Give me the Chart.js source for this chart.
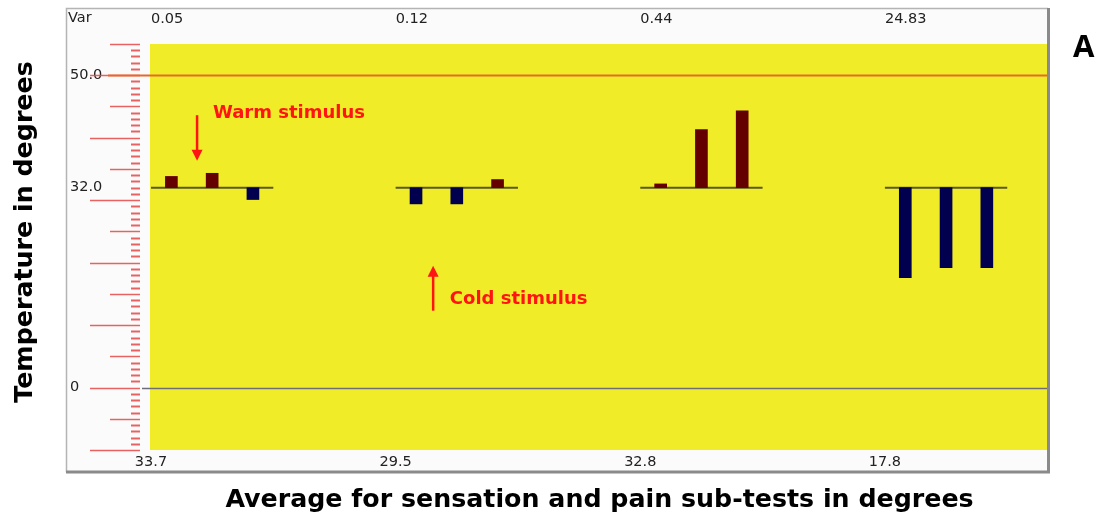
<!DOCTYPE html>
<html>
<head>
<meta charset="utf-8">
<script src="https://cdn.jsdelivr.net/npm/chart.js@4.4.1/dist/chart.umd.min.js"></script>
<style>
  html, body { margin: 0; padding: 0; background: #fff; }
  #wrap { width: 1106px; height: 520px; position: relative; }
</style>
</head>
<body>
<div id="wrap"><canvas id="tsaChart"></canvas></div>
<script>
// Thermal sensory trials - 4 sub-tests, 3 trials each, around the 32 degree baseline

const groupVariance = ['0.05', '0.12', '0.44', '24.83'];
const groupAverage = ['33.7', '29.5', '32.8', '17.8'];
const groupStart = [0, 6, 12, 18];      // first slot of each sub-test
const trialsPerGroup = 3;
const slotCount = 22;
const baselineTemp = 32;
const trialTemps = [
    33.8, 34.3, 30.1,
    29.4, 29.4, 33.3,
    32.6, 41.3, 44.3,
    17.6, 19.2, 19.2
];
const yLabelValues = [0, 32, 50];
const yLabelText = ['0', '32.0', '50.0'];
const yMin = -10, yMax = 55;

// annotation anchors, in data units (slot, degrees)
const warmNote = { text: 'Warm stimulus', x: 1.02, y: 43.9, arrowX: 0.63, from: 43.6, to: 36.3 };
const coldNote = { text: 'Cold stimulus', x: 6.83, y: 14.2, arrowX: 6.42, from: 12.3, to: 19.5 };

// --- build datasets ---
const barData = [];
groupStart.forEach((start, g) => {
    for (let k = 0; k < trialsPerGroup; k++) {
        barData.push({ x: start + k, y: [baselineTemp, trialTemps[g * trialsPerGroup + k]] });
    }
});

const baselinePts = [];
groupStart.forEach(start => {
    baselinePts.push({ x: start - 0.5, y: baselineTemp });
    baselinePts.push({ x: start + trialsPerGroup - 0.5, y: baselineTemp });
    baselinePts.push({ x: start + trialsPerGroup, y: null });
});

const LABEL_FONT = { family: 'DejaVu Sans', size: 14.5 };
const TITLE_FONT = { family: 'DejaVu Sans', size: 25.3, weight: 'bold' };

// --- custom drawing: frame, yellow plot, ruler ticks, notes ---
const framePlugin = {
    id: 'framePlugin',
    beforeDraw(chart) {
        const { ctx, chartArea } = chart;
        ctx.save();
        ctx.fillStyle = '#ffffff';
        ctx.fillRect(0, 0, chart.width, chart.height);

        // panel
        ctx.fillStyle = '#fbfbfb';
        ctx.fillRect(66, 8, chartArea.right - 66, 464);
        ctx.strokeStyle = '#b4b4b4';
        ctx.lineWidth = 1.5;
        ctx.beginPath();
        ctx.moveTo(66.5, 472);
        ctx.lineTo(66.5, 8.5);
        ctx.lineTo(chartArea.right, 8.5);
        ctx.stroke();
        ctx.strokeStyle = '#8a8a8a';
        ctx.lineWidth = 3;
        ctx.beginPath();
        ctx.moveTo(chartArea.right + 0.5, 8);
        ctx.lineTo(chartArea.right + 0.5, 472);
        ctx.lineTo(66, 472);
        ctx.stroke();

        // yellow plot area
        ctx.fillStyle = '#f0ec28';
        ctx.fillRect(chartArea.left - 1, chartArea.top, chartArea.right - chartArea.left, chartArea.bottom - chartArea.top);
        ctx.restore();
    },
    beforeDatasetsDraw(chart) {
        const { ctx, chartArea } = chart;
        const y = chart.scales.y;
        const tickRight = chartArea.left - 11;
        ctx.save();
        for (let v = yMin; v <= yMax; v++) {
            const py = Math.round(y.getPixelForValue(v)) + 0.5;
            let len = 9, w = 2;
            if (v % 10 === 0) { len = 50; w = 1.5; }
            else if (v % 5 === 0) { len = 30; w = 1.5; }
            ctx.strokeStyle = 'rgba(228, 70, 70, 0.85)';
            ctx.lineWidth = w;
            ctx.beginPath();
            ctx.moveTo(tickRight - len, py);
            ctx.lineTo(tickRight, py);
            ctx.stroke();
        }
        // upper limit line
        const p50 = Math.round(y.getPixelForValue(50)) + 0.5;
        ctx.strokeStyle = '#e8682a';
        ctx.lineWidth = 2;
        ctx.beginPath();
        ctx.moveTo(108, p50);
        ctx.lineTo(chartArea.right - 1, p50);
        ctx.stroke();
        // zero line
        const p0 = Math.round(y.getPixelForValue(0)) + 0.5;
        ctx.strokeStyle = '#6c6c7c';
        ctx.lineWidth = 1.5;
        ctx.beginPath();
        ctx.moveTo(tickRight + 2, p0);
        ctx.lineTo(chartArea.right - 1, p0);
        ctx.stroke();
        ctx.restore();
    },
    afterDraw(chart) {
        const { ctx } = chart;
        const xs = chart.scales.xb;
        const y = chart.scales.y;
        ctx.save();

        ctx.fillStyle = '#222';
        ctx.font = '14.5px "DejaVu Sans"';
        ctx.textAlign = 'left';
        ctx.textBaseline = 'middle';
        ctx.fillText('Var', 68, 18);

        ctx.fillStyle = '#000';
        ctx.font = 'bold 31px "Open Sans"';
        ctx.fillText('A', 1073, 48);

        // y title
        ctx.save();
        ctx.translate(25, 232);
        ctx.rotate(-Math.PI / 2);
        ctx.textAlign = 'center';
        ctx.font = 'bold 25.3px "DejaVu Sans"';
        ctx.fillText('Temperature in degrees', 0, 0);
        ctx.restore();

        // notes
        [warmNote, coldNote].forEach(n => {
            ctx.fillStyle = '#ff1414';
            ctx.strokeStyle = '#ff1414';
            ctx.font = 'bold 18px "DejaVu Sans"';
            ctx.textAlign = 'left';
            ctx.fillText(n.text, xs.getPixelForValue(n.x), y.getPixelForValue(n.y));

            const ax = xs.getPixelForValue(n.arrowX);
            const y1 = y.getPixelForValue(n.from);
            const y2 = y.getPixelForValue(n.to);
            const dir = y2 > y1 ? 1 : -1;
            ctx.lineWidth = 2.5;
            ctx.beginPath();
            ctx.moveTo(ax, y1);
            ctx.lineTo(ax, y2 - dir * 10);
            ctx.stroke();
            ctx.beginPath();
            ctx.moveTo(ax - 5.5, y2 - dir * 11);
            ctx.lineTo(ax + 5.5, y2 - dir * 11);
            ctx.lineTo(ax, y2);
            ctx.closePath();
            ctx.fill();
        });
        ctx.restore();
    }
};

const ctx = document.getElementById('tsaChart').getContext('2d');
new Chart(ctx, {
    type: 'bar',
    data: {
        datasets: [
            {
                label: 'Trials',
                data: barData,
                xAxisID: 'xb',
                backgroundColor: c => (c.raw && c.raw.y[1] >= baselineTemp) ? '#640000' : '#00004e',
                barThickness: 12,
                borderWidth: 0,
                order: 0
            },
            {
                type: 'line',
                label: 'Baseline',
                data: baselinePts,
                xAxisID: 'xb',
                borderColor: '#5a5820',
                borderWidth: 2,
                pointRadius: 0,
                spanGaps: false,
                order: 1
            }
        ]
    },
    options: {
        responsive: true,
        maintainAspectRatio: false,
        animation: false,
        layout: { padding: { left: 70, right: 58, top: 0, bottom: 0 } },
        plugins: { legend: { display: false }, tooltip: { enabled: false } },
        scales: {
            xb: {
                type: 'linear',
                position: 'bottom',
                offset: false,
                min: -0.5,
                max: slotCount - 0.5,
                grid: { display: false, drawTicks: false, offset: false },
                border: { display: false },
                afterBuildTicks: s => { s.ticks = groupStart.map(v => ({ value: v - 0.5 })); },
                afterFit: s => { s.height = 70; },
                ticks: {
                    autoSkip: false, maxRotation: 0, padding: 4,
                    font: LABEL_FONT, color: '#222',
                    callback: (v, i) => groupAverage[i]
                },
                title: {
                    display: true,
                    text: 'Average for sensation and pain sub-tests in degrees',
                    font: TITLE_FONT, color: '#000',
                    padding: { top: 0, bottom: 4 }
                }
            },
            xt: {
                type: 'linear',
                position: 'top',
                offset: false,
                min: -0.5,
                max: slotCount - 0.5,
                grid: { display: false, drawTicks: false, offset: false },
                border: { display: false },
                afterBuildTicks: s => { s.ticks = groupStart.map(v => ({ value: v - 0.5 })); },
                afterFit: s => { s.height = 44; },
                ticks: {
                    autoSkip: false, maxRotation: 0, padding: 16, align: 'start',
                    font: LABEL_FONT, color: '#222',
                    callback: (v, i) => groupVariance[i]
                }
            },
            y: {
                position: 'left',
                min: yMin,
                max: yMax,
                grid: { display: false, drawTicks: false },
                border: { display: false },
                afterBuildTicks: s => { s.ticks = yLabelValues.map(v => ({ value: v })); },
                afterFit: s => { s.width = 81; },
                ticks: {
                    autoSkip: false, crossAlign: 'far',
                    font: LABEL_FONT, color: '#222',
                    callback: (v, i) => yLabelText[i]
                }
            }
        }
    },
    plugins: [framePlugin]
});
</script>
</body>
</html>
